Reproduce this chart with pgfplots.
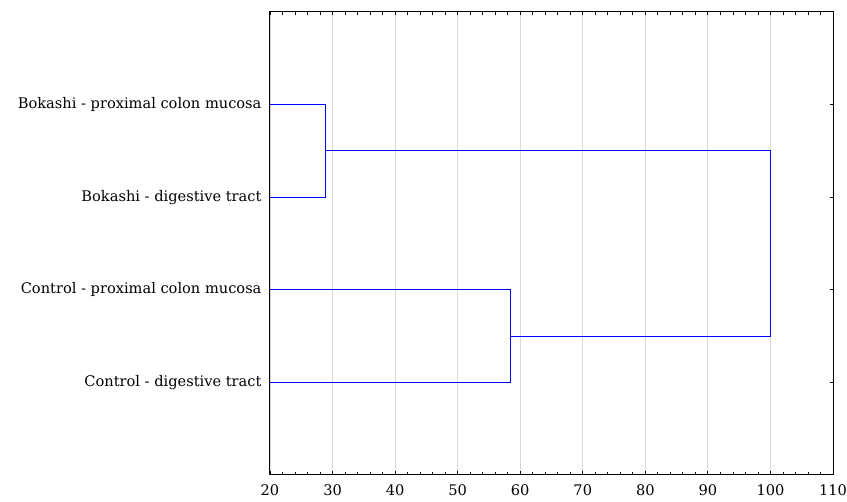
\documentclass[border=0pt]{standalone}
\usepackage{fontspec}
\setmainfont{DejaVu Serif}
\usepackage{pgfplots}
\pgfplotsset{compat=1.18}
\begin{document}
\begin{tikzpicture}
\begin{axis}[
  name=ax,
  scale only axis,
  width=563pt, height=463pt,
  xmin=20, xmax=110, ymin=0, ymax=5,
  xtick={20,30,...,110},
  minor x tick num=4,
  tick align=inside,
  xtick pos=both,
  xticklabel pos=bottom,
  ytick={1,2,3,4},
  yticklabels={Control - digestive tract, Control - proximal colon mucosa, Bokashi - digestive tract, Bokashi - proximal colon mucosa},
  ytick pos=right,
  yticklabel pos=left,
  major tick length=3.5pt,
  minor tick length=3pt,
  xmajorgrids,
  major grid style={draw=black!15, line width=0.8pt},
  axis line style={line width=1pt},
  tick style={black, line width=0.8pt},
  tick label style={font=\fontsize{14.6}{16}\selectfont},
  /pgf/number format/assume math mode=true,
  xticklabel style={yshift=-6pt, inner xsep=0pt},
  yticklabel style={xshift=-5pt},
]
\addplot[blue, line width=0.9pt] coordinates {(20,4) (28.8,4) (28.8,3) (20,3)};
\addplot[blue, line width=0.9pt] coordinates {(20,2) (58.5,2) (58.5,1) (20,1)};
\addplot[blue, line width=0.9pt] coordinates {(28.8,3.5) (100,3.5) (100,1.5) (58.5,1.5)};
\end{axis}
\path (ax.south west) ++(-270pt,-27pt) coordinate (bl);
\path (ax.north east) ++(14pt,12pt) coordinate (tr);
\path (bl) rectangle (tr);
\end{tikzpicture}
\end{document}
